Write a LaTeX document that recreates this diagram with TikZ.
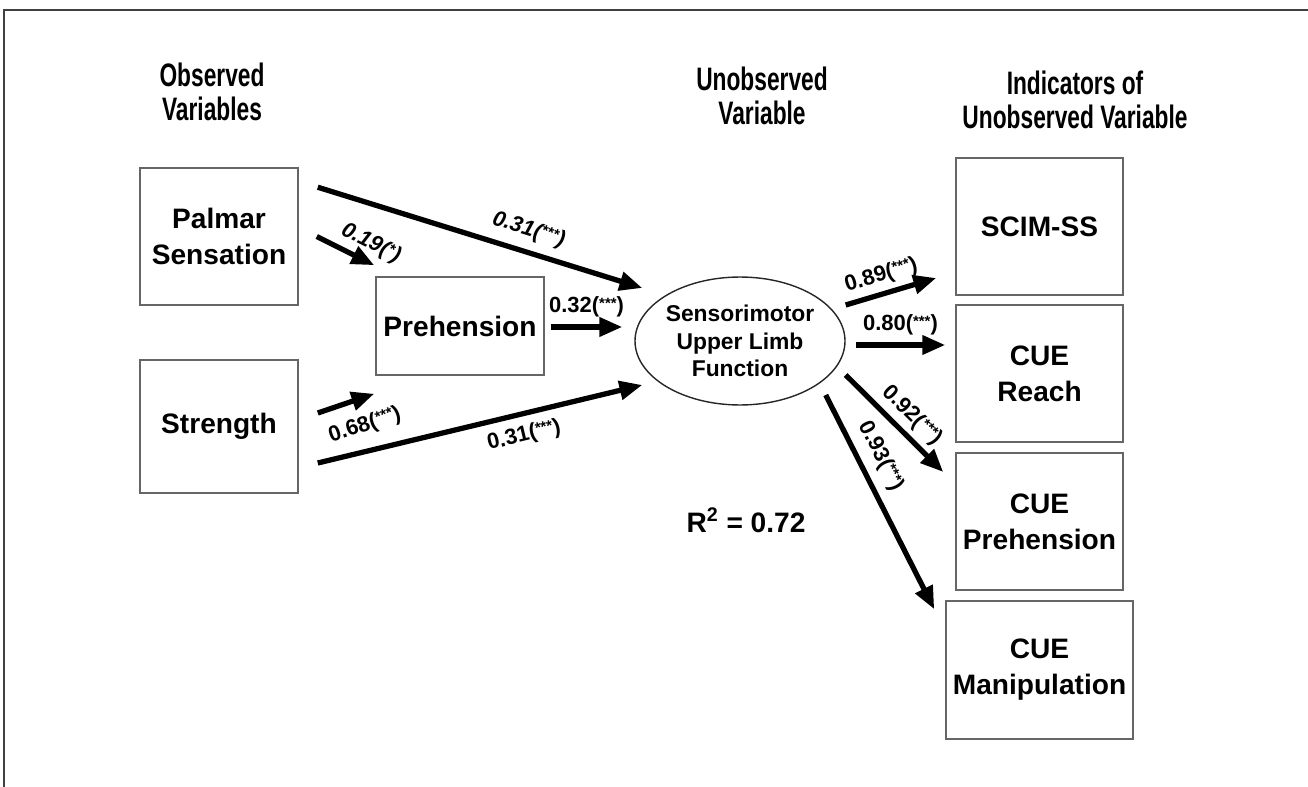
\documentclass[tikz,border=0pt]{standalone}
\usepackage{fontspec}
\setmainfont{Liberation Sans}
\newfontfamily\narrowfont[FakeStretch=0.7]{Liberation Sans}
\usetikzlibrary{arrows.meta,shapes.geometric}

\begin{document}
\begin{tikzpicture}[x=0.02cm,y=-0.02cm,
  varbox/.style={draw=black!60, line width=0.9pt, align=center, inner sep=0pt,
    font=\bfseries\fontsize{16}{20.5}\selectfont},
  effect/.style={line width=3pt, -{Triangle[length=13pt,width=10.5pt]}},
  coef/.style={font=\bfseries\fontsize{12.5}{14}\selectfont, sloped, inner sep=1pt},
  heading/.style={align=center, font=\narrowfont\bfseries\fontsize{18.5}{19}\selectfont}
]
    \newcommand{\sig}[1]{(\raisebox{.4ex}{\fontsize{8.5}{9}\selectfont #1})}
\useasboundingbox (0,0) rectangle (1308,787);
\draw[line width=1.1pt, black!75] (4,787) -- (4,10) -- (1308,10);

\node[heading] (hObs) at (212,92) {Observed\\Variables};
\node[heading] (hUnobs) at (762,96) {Unobserved\\Variable};
\node[heading] (hInd) at (1075,100) {Indicators of\\Unobserved Variable};

\node[varbox, minimum width=3.16cm, minimum height=2.74cm] (palmar) at (219,236.5) {Palmar\\Sensation};
\node[varbox, minimum width=3.16cm, minimum height=2.66cm] (strength) at (219,426.5) {Strength};
\node[varbox, minimum width=3.36cm, minimum height=1.96cm] (prehension) at (460,326) {Prehension};
\node[draw=black!85, line width=0.8pt, ellipse, minimum width=3.92cm, minimum height=2.56cm,
  inner sep=0pt, align=center, font=\bfseries\fontsize{13}{15.5}\selectfont] (sulf) at (740,341)
  {Sensorimotor\\Upper Limb\\Function};

\node[varbox, minimum width=3.34cm, minimum height=2.74cm] (scim) at (1039.5,226.5) {SCIM-SS};
\node[varbox, minimum width=3.34cm, minimum height=2.74cm] (cueReach) at (1039.5,373.5) {CUE\\Reach};
\node[varbox, minimum width=3.34cm, minimum height=2.74cm] (cuePreh) at (1039.5,521.5) {CUE\\Prehension};
\node[varbox, minimum width=3.74cm, minimum height=2.76cm] (cueManip) at (1039.5,670) {CUE\\Manipulation};

\node[font=\bfseries\fontsize{16}{19}\selectfont] (rsq) at (746,520) {R\textsuperscript{2} = 0.72};

\draw[effect] ([shift={(19,20)}]palmar.north east) -- ([shift={(8,-53)}]sulf.west)
  node[coef, pos=0.63, above=4pt] (cPalSulf) {\itshape 0.31\sig{***}};
\draw[effect] ([shift={(18,0)}]palmar.east) -- ([shift={(-1,-11)}]prehension.north west)
  node[coef, pos=0.8, above=2pt] (cPalPreh) {\itshape 0.19\sig{*}};
\draw[effect] ([shift={(6,1)}]prehension.east) -- ([shift={(-12,-14)}]sulf.west)
  node[coef, pos=0.5, above=3pt] (cPrehSulf) {0.32\sig{***}};
\draw[effect] ([shift={(19,-13.5)}]strength.east) -- ([shift={(-1,18)}]prehension.south west)
  node[coef, pos=0.68, below=7pt] (cStrPreh) {0.68\sig{***}};
\draw[effect] ([shift={(19,36.5)}]strength.east) -- ([shift={(8,44)}]sulf.west)
  node[coef, pos=0.62, below=4pt] (cStrSulf) {0.31\sig{***}};

\draw[effect] ([shift={(0,-36)}]sulf.east) -- ([shift={(-19,51.5)}]scim.west)
  node[coef, pos=0.45, above=2pt] (cScim) {0.89\sig{***}};
\draw[effect] ([shift={(10,4)}]sulf.east) -- ([shift={(-10,-28.5)}]cueReach.west)
  node[coef, pos=0.5, above=3pt] (cReach) {0.80\sig{***}};
\draw[effect] ([shift={(0,34)}]sulf.east) -- ([shift={(-12,-49.5)}]cuePreh.west)
  node[coef, pos=0.55, above=2pt] (cPreh) {0.92\sig{***}};
\draw[effect] ([shift={(-20,54)}]sulf.east) -- ([shift={(-11,9)}]cueManip.north west)
  node[coef, pos=0.33, above=4pt] (cManip) {0.93\sig{***}};

\end{tikzpicture}
\end{document}
